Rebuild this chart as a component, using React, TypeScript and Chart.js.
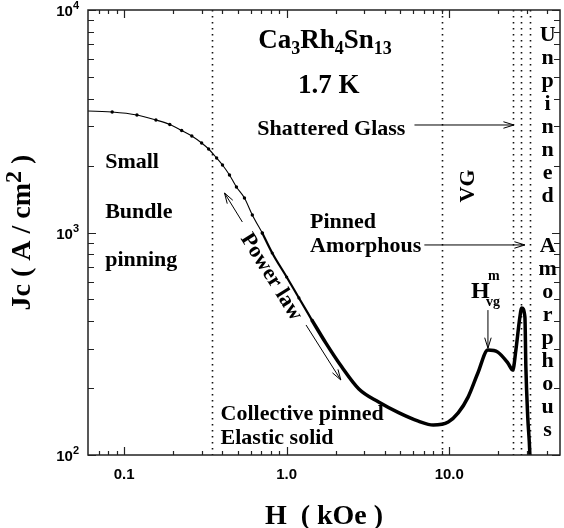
import React, { useEffect, useRef } from 'react';
import { Chart, registerables } from 'chart.js';
Chart.register(...registerables);

// ---- data (H in kOe, Jc in A/cm^2) ----
const lowH = [0.05, 0.0845, 0.120, 0.157, 0.191, 0.226, 0.261, 0.300, 0.331, 0.371, 0.403, 0.445, 0.491, 0.550, 0.615, 0.708];
const lowJc = [3530, 3480, 3374, 3203, 3057, 2874, 2715, 2525, 2373, 2161, 2011, 1813, 1601, 1429, 1199, 995];
const midH = [0.708, 0.815, 1.0, 1.19, 1.43];
const midJc = [995, 809, 631, 508, 404];
const highH = [1.43, 1.74, 2.18, 2.78, 3.68, 4.88, 6.46, 7.98, 9.86, 11.35, 13.06, 15.0, 17.3, 19.9, 22.96, 24.6, 25.7, 27.2, 27.9, 29.2, 29.6, 30.4, 31.3, 31.5];
const highJc = [404, 319, 249, 198, 173, 155, 142, 136.4, 140.7, 154.5, 182, 233.6, 296.5, 290, 259, 241, 296.5, 417, 458, 417, 249, 148, 102, 85];
const guideH = [0.345, 9.0, 24.6, 27.6, 31.3];

const xMajor = [0.1, 1, 10];
const xMajorLabels = ['0.1', '1.0', '10.0'];
const xMinor = [0.07, 0.08, 0.09, 0.2, 0.3, 0.4, 0.5, 0.6, 0.7, 0.8, 0.9, 2, 3, 4, 5, 6, 7, 8, 9, 20, 30, 40];
const yMajor = [100, 1000, 10000];
const yMajorExp = ['2', '3', '4'];
const yMinor = [200, 300, 400, 500, 600, 700, 800, 900, 2000, 3000, 4000, 5000, 6000, 7000, 8000, 9000];

const SERIF = '"Liberation Serif", "Times New Roman", serif';
const SANS = '"Liberation Sans", Arial, sans-serif';

// annotations (data coordinates)
const textNotes = [
  { t: 'Small', x: 0.0765, y: 1949 },
  { t: 'Bundle', x: 0.0765, y: 1162 },
  { t: 'pinning', x: 0.0765, y: 707 },
  { t: 'Shattered Glass', x: 0.66, y: 2743 },
  { t: 'Pinned', x: 1.392, y: 1048 },
  { t: 'Amorphous', x: 1.392, y: 817 },
  { t: 'Collective pinned', x: 0.392, y: 143.7 },
  { t: 'Elastic solid', x: 0.392, y: 112 },
];
const arrowNotes = [
  { x1: 6.11, y1: 3042, x2: 25.0, y2: 3042 },
  { x1: 7.03, y1: 879, x2: 29.2, y2: 879 },
  { x1: 0.534, y1: 1115, x2: 0.4147, y2: 1505 },
  { x1: 1.316, y1: 384, x2: 2.154, y2: 217.3 },
  { x1: 17.3, y1: 448, x2: 17.3, y2: 302 },
];

type Run = { t: string; s: number; dy?: number };

function runsWidth(ctx: CanvasRenderingContext2D, runs: Run[], fam: string) {
  let w = 0;
  for (const r of runs) {
    ctx.font = `bold ${r.s}px ${fam}`;
    w += ctx.measureText(r.t).width;
  }
  return w;
}
function drawRuns(ctx: CanvasRenderingContext2D, runs: Run[], x: number, y: number, fam: string, align = 'left') {
  const w = runsWidth(ctx, runs, fam);
  let cx = align === 'center' ? x - w / 2 : align === 'right' ? x - w : x;
  ctx.textAlign = 'left';
  ctx.textBaseline = 'alphabetic';
  for (const r of runs) {
    ctx.font = `bold ${r.s}px ${fam}`;
    ctx.fillText(r.t, cx, y + (r.dy || 0));
    cx += ctx.measureText(r.t).width;
  }
}
function arrow(ctx: CanvasRenderingContext2D, x1: number, y1: number, x2: number, y2: number) {
  const head = 11, ang = 0.3;
  const t = Math.atan2(y2 - y1, x2 - x1);
  ctx.beginPath();
  ctx.moveTo(x1, y1);
  ctx.lineTo(x2, y2);
  ctx.moveTo(x2 - head * Math.cos(t - ang), y2 - head * Math.sin(t - ang));
  ctx.lineTo(x2, y2);
  ctx.lineTo(x2 - head * Math.cos(t + ang), y2 - head * Math.sin(t + ang));
  ctx.stroke();
}

const overlay = {
  id: 'overlay',
  beforeDatasetsDraw(chart: any) {
    const { ctx, chartArea: a, scales } = chart;
    const xs = scales.x;
    ctx.save();
    ctx.beginPath();
    ctx.rect(a.left, a.top, a.right - a.left, a.bottom - a.top);
    ctx.clip();
    ctx.strokeStyle = '#111';
    ctx.lineWidth = 1.6;
    ctx.setLineDash([1.6, 4.4]);
    for (const v of guideH) {
      const px = Math.round(xs.getPixelForValue(v)) + 0.5;
      ctx.beginPath();
      ctx.moveTo(px, a.top);
      ctx.lineTo(px, a.bottom);
      ctx.stroke();
    }
    ctx.restore();
  },
  afterDatasetsDraw(chart: any) {
    const { ctx, chartArea: a, scales } = chart;
    const xs = scales.x, ys = scales.y;
    const X = (v: number) => xs.getPixelForValue(v);
    const Y = (v: number) => ys.getPixelForValue(v);
    ctx.save();
    // frame
    ctx.strokeStyle = '#222';
    ctx.lineWidth = 1.5;
    ctx.strokeRect(a.left, a.top, a.right - a.left, a.bottom - a.top);
    // ticks
    ctx.lineWidth = 1.2;
    const xt = (v: number, len: number) => {
      const px = Math.round(X(v)) + 0.5;
      ctx.beginPath();
      ctx.moveTo(px, a.bottom); ctx.lineTo(px, a.bottom - len);
      ctx.moveTo(px, a.top); ctx.lineTo(px, a.top + len);
      ctx.stroke();
    };
    const yt = (v: number, len: number) => {
      const py = Math.round(Y(v)) + 0.5;
      ctx.beginPath();
      ctx.moveTo(a.left, py); ctx.lineTo(a.left + len, py);
      ctx.moveTo(a.right, py); ctx.lineTo(a.right - len, py);
      ctx.stroke();
    };
    xMinor.forEach((v) => xt(v, 4));
    xMajor.forEach((v) => xt(v, 8));
    yMinor.forEach((v) => yt(v, 6));
    yMajor.forEach((v) => yt(v, 8));
    // tick labels
    ctx.fillStyle = '#000';
    ctx.font = `bold 15px ${SANS}`;
    ctx.textAlign = 'center';
    ctx.textBaseline = 'alphabetic';
    xMajor.forEach((v, i) => ctx.fillText(xMajorLabels[i], X(v), a.bottom + 24));
    yMajor.forEach((v, i) => {
      drawRuns(ctx, [{ t: '10', s: 15 }, { t: yMajorExp[i], s: 11, dy: -7 }], a.left - 9, Y(v) + 6, SANS, 'right');
    });
    // axis titles
    ctx.fillStyle = '#000';
    ctx.font = `bold 28px ${SERIF}`;
    ctx.textAlign = 'center';
    ctx.fillText('H  ( kOe )', (a.left + a.right) / 2, a.bottom + 69);
    ctx.save();
    ctx.translate(30, (a.top + a.bottom) / 2);
    ctx.rotate(-Math.PI / 2);
    drawRuns(ctx, [{ t: 'Jc ( A / cm', s: 28 }, { t: '2', s: 24, dy: -9 }, { t: ' )', s: 28 }], 0, 0, SERIF, 'center');
    ctx.restore();

    // annotations
    ctx.fillStyle = '#000';
    ctx.font = `bold 22px ${SERIF}`;
    ctx.textAlign = 'left';
    ctx.textBaseline = 'alphabetic';
    for (const n of textNotes) ctx.fillText(n.t, X(n.x), Y(n.y));
    drawRuns(ctx, [{ t: 'Ca', s: 27 }, { t: '3', s: 18, dy: 6 }, { t: 'Rh', s: 27 }, { t: '4', s: 18, dy: 6 }, { t: 'Sn', s: 27 }, { t: '13', s: 18, dy: 6 }], X(0.669), Y(6750), SERIF);
    drawRuns(ctx, [{ t: '1.7 K', s: 27 }], X(1.176), Y(4236), SERIF);
    drawRuns(ctx, [{ t: 'H', s: 24 }], X(13.63), Y(508), SERIF);
    drawRuns(ctx, [{ t: 'm', s: 14 }], X(17.3), Y(611.7), SERIF);
    drawRuns(ctx, [{ t: 'vg', s: 14 }], X(16.84), Y(467.3), SERIF);
    // rotated labels
    ctx.font = `bold 22px ${SERIF}`;
    ctx.textAlign = 'center';
    ctx.textBaseline = 'middle';
    ctx.save();
    ctx.translate(X(13.07), Y(1618));
    ctx.rotate(-Math.PI / 2);
    ctx.fillText('VG', 0, 0);
    ctx.restore();
    ctx.save();
    ctx.translate(X(0.804), Y(631));
    ctx.rotate((58 * Math.PI) / 180);
    ctx.fillText('Power law', 0, 0);
    ctx.restore();
    // vertical letters
    ctx.textBaseline = 'alphabetic';
    const colX = X(40.3);
    'Unpinned'.split('').forEach((c, i) => ctx.fillText(c, colX, Y(7257) + i * 23));
    'Amorphous'.split('').forEach((c, i) => ctx.fillText(c, colX, Y(817.4) + i * 23));
    // arrows
    ctx.strokeStyle = '#000';
    ctx.lineWidth = 1;
    for (const r of arrowNotes) arrow(ctx, X(r.x1), Y(r.y1), X(r.x2), Y(r.y2));
    ctx.restore();
  },
};

export default function App() {
  const ref = useRef<HTMLCanvasElement>(null);
  useEffect(() => {
    document.body.style.margin = '0';
    const chart = new Chart(ref.current as HTMLCanvasElement, {
      type: 'line',
      data: {
        datasets: [
          {
            data: lowH.map((h, i) => ({ x: h, y: lowJc[i] })),
            borderColor: '#000',
            borderWidth: 1.1,
            pointRadius: 1.7,
            pointBackgroundColor: '#000',
            pointBorderWidth: 0,
            cubicInterpolationMode: 'monotone',
          },
          {
            data: midH.map((h, i) => ({ x: h, y: midJc[i] })),
            borderColor: '#000',
            borderWidth: 2.2,
            pointRadius: 1.6,
            pointBackgroundColor: '#000',
            pointBorderWidth: 0,
            cubicInterpolationMode: 'monotone',
          },
          {
            data: highH.map((h, i) => ({ x: h, y: highJc[i] })),
            borderColor: '#000',
            borderWidth: 3.5,
            pointRadius: 0,
            cubicInterpolationMode: 'monotone',
          },
        ],
      },
      options: {
        animation: false,
        responsive: false,
        layout: { padding: { left: 88, top: 10, right: 1, bottom: 73 } },
        plugins: { legend: { display: false }, tooltip: { enabled: false } },
        scales: {
          x: { type: 'logarithmic', min: 0.06, max: 48, display: false },
          y: { type: 'logarithmic', min: 100, max: 10000, display: false },
        },
      },
      plugins: [overlay],
    } as any);
    return () => chart.destroy();
  }, []);
  return (
    <div style={{ width: 564, height: 528, background: '#fff' }}>
      <canvas ref={ref} width={564} height={528} style={{ display: 'block', width: 564, height: 528 }} />
    </div>
  );
}
